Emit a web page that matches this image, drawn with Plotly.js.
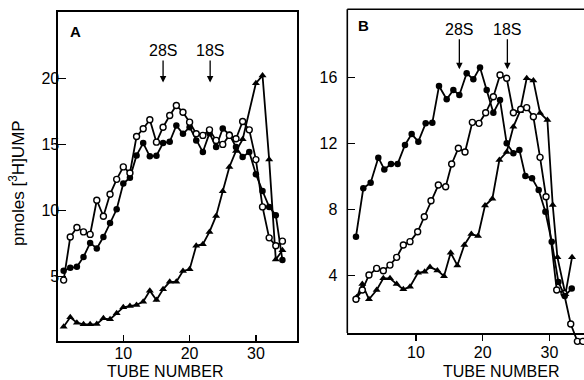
<!DOCTYPE html>
<html>
<head>
<meta charset="utf-8">
<script src="https://cdn.plot.ly/plotly-3.0.1.min.js"></script>
<style>html,body{margin:0;padding:0;background:#fff;}#chart{width:584px;height:380px;}</style>
</head>
<body>
<div id="chart"></div>
<script>
// ---- Panel A data (tube number vs pmoles [3H]UMP) ----
const tubesA = [1,2,3,4,5,6,7,8,9,10,11,12,13,14,15,16,17,18,19,20,21,22,23,24,25,26,27,28,29,30,31,32,33,34];
const openA = [4.75,8.0,8.72,8.39,8.2,10.78,9.57,11.23,12.36,13.3,12.84,15.6,16.18,16.86,15.17,16.3,17.18,17.94,17.43,16.68,15.8,15.68,16.1,15.3,15.0,15.68,15.43,16.73,16.1,13.85,10.28,7.94,7.34,7.69];
const filledA = [5.45,5.68,5.75,6.5,7.56,7.14,8.0,9.07,10.1,12.04,12.49,14.17,15.1,14.1,14.15,15.1,15.2,16.43,15.8,16.3,15.3,14.42,15.85,14.8,16.2,15.75,14.8,14.05,14.42,12.74,11.48,10.28,9.65,6.26];
const triTubesA = [1,2,3,4,5,6,7,8,9,10,11,12,13,14,15,16,17,18,19,20,21,22,23,24,25,26,27,28,30,31,32,33,34];
const triA = [1.23,1.94,1.53,1.41,1.41,1.43,1.86,1.79,2.24,2.69,2.79,2.87,3.12,3.95,3.24,4.05,4.62,4.62,5.43,5.56,7.34,7.46,8.39,9.6,11.46,13.29,14.5,15.38,19.62,20.2,13.85,6.3,7.0];

// ---- Panel B data ----
const filledTubesB = [1.0,2.1,3.2,4.35,5.25,6.25,7.25,8.35,9.35,10.35,11.45,12.45,13.45,14.6,15.6,16.5,17.6,18.6,19.6,20.6,21.6,22.6,23.6,24.6,25.5,26.4,27.4,28.4,29.4,30.35,31.35,32.3,33.35];
const filledB = [6.34,9.27,9.61,11.13,10.42,10.75,10.75,11.9,12.56,12.1,13.21,13.25,15.47,14.67,15.23,14.93,16.24,15.88,16.6,15.23,13.85,14.62,12.0,11.4,11.6,10.02,9.88,9.17,7.85,6.04,3.6,2.75,3.2];
const openTubesB = [1.0,1.95,2.95,4.1,5.1,6.1,7.1,8.1,9.1,10.25,11.25,12.25,13.35,14.45,15.35,16.35,17.35,18.45,19.45,20.45,21.6,22.6,23.6,24.6,25.7,26.6,27.6,28.6,29.5,31.1,32.2,33.2,34.2,35.0];
const openB = [2.55,3.11,4.02,4.42,4.28,4.62,5.09,5.84,6.04,6.64,7.55,8.52,9.47,9.37,10.75,11.7,11.47,13.27,13.21,13.85,14.82,16.14,15.94,13.85,14.06,14.16,13.61,11.15,8.76,3.11,2.9,1.05,0.0,0.0];
const triTubesB = [1.1,1.95,2.95,4.1,5.1,6.1,7.1,8.1,9.1,10.3,11.3,12.1,13.2,14.2,15.2,16.2,17.25,18.3,19.3,20.35,21.45,22.5,23.6,24.6,25.6,26.6,27.6,28.6,29.7,30.5,31.2,32.4,33.4];
const triB = [2.67,3.47,2.55,3.11,3.82,3.82,3.47,3.15,3.31,4.15,4.22,4.5,4.3,3.95,5.37,4.6,5.84,6.5,6.38,8.23,8.64,10.99,11.47,13.0,13.95,15.94,15.8,13.84,13.41,8.26,5.1,2.85,5.1];

const ticksA_y = [5,10,15,20];
const ticksB_y = [4,8,12,16];
const ticksX = [10,20,30];
const markers = [
  {name:'28S', xA:16.0, xB:16.5},
  {name:'18S', xA:23.1, xB:23.7}
];

const FONT = 'Liberation Sans, Arial, Helvetica, sans-serif';
const LW = 1.8;
function openTrace(x,y,xa,ya){return {x:x,y:y,xaxis:xa,yaxis:ya,mode:'lines+markers',type:'scatter',cliponaxis:false,
  line:{color:'#000',width:LW},marker:{symbol:'circle',size:6,color:'#fff',line:{color:'#000',width:1.4}},hoverinfo:'skip'};}
function filledTrace(x,y,xa,ya){return {x:x,y:y,xaxis:xa,yaxis:ya,mode:'lines+markers',type:'scatter',cliponaxis:false,
  line:{color:'#000',width:LW},marker:{symbol:'circle',size:6.5,color:'#000'},hoverinfo:'skip'};}
function triTrace(x,y,xa,ya){return {x:x,y:y,xaxis:xa,yaxis:ya,mode:'lines+markers',type:'scatter',cliponaxis:false,
  line:{color:'#000',width:LW},marker:{symbol:'triangle-up',size:7,color:'#000'},hoverinfo:'skip'};}

const data = [
  triTrace(triTubesA,triA,'x','y'),
  filledTrace(tubesA,filledA,'x','y'),
  openTrace(tubesA,openA,'x','y'),
  triTrace(triTubesB,triB,'x2','y2'),
  openTrace(openTubesB,openB,'x2','y2'),
  filledTrace(filledTubesB,filledB,'x2','y2')
];

const W=584,H=380;
const px = v=>v/W, py = v=>(H-v)/H;
const axFont = {family:FONT,size:16,color:'#000'};
const lblFont = {family:FONT,size:16,color:'#000'};

const annotations = [];
markers.forEach(m=>{
  annotations.push({x:m.xA,y:19.67,xref:'x',yref:'y',text:m.name,showarrow:true,ax:0,ay:-32,
    arrowhead:2,arrowsize:1,arrowwidth:1.3,arrowcolor:'#000',standoff:0,font:lblFont});
  annotations.push({x:m.xB,y:16.48,xref:'x2',yref:'y2',text:m.name,showarrow:true,ax:0,ay:-40,
    arrowhead:2,arrowsize:1,arrowwidth:1.3,arrowcolor:'#000',standoff:0,font:lblFont});
});
function paperText(x,y,text,size,extra){
  return Object.assign({x:px(x),y:py(y),xref:'paper',yref:'paper',xanchor:'center',yanchor:'middle',text:text,showarrow:false,
    font:{family:FONT,size:size,color:'#000'}},extra||{});
}
annotations.push(paperText(75,31,'<b>A</b>',15));
annotations.push(paperText(363,26,'<b>B</b>',15));
annotations.push(paperText(165,371,'TUBE NUMBER',16));
annotations.push(paperText(501,371,'TUBE NUMBER',16));
annotations.push(paperText(17,183,'pmoles [<sup>3</sup>H]UMP',17,{textangle:-90}));

const layout = {
  width:W,height:H,margin:{l:0,r:0,t:0,b:0},
  paper_bgcolor:'#fff',plot_bgcolor:'#fff',showlegend:false,
  font:{family:FONT,color:'#000'},
  xaxis:{domain:[px(58),px(297)],range:[0.15,36.2],anchor:'y',tickvals:ticksX,ticks:'inside',ticklen:6,tickwidth:1.4,tickcolor:'#000',
    showline:true,linecolor:'#000',linewidth:1.6,mirror:true,showgrid:false,zeroline:false,tickfont:axFont,ticklabelstandoff:-3},
  yaxis:{domain:[py(341),py(12)],range:[0.15,25.0],anchor:'x',tickvals:ticksA_y,ticks:'inside',ticklen:8,tickwidth:1.4,tickcolor:'#000',
    showline:true,linecolor:'#000',linewidth:1.6,mirror:true,showgrid:false,zeroline:false,tickfont:axFont,ticklabelstandoff:-6},
  xaxis2:{domain:[px(347.3),1],range:[-0.3,35.19],anchor:'free',position:py(333),tickvals:ticksX,ticks:'outside',ticklen:6,tickwidth:1.4,tickcolor:'#000',
    showline:true,linecolor:'#000',linewidth:1.6,showgrid:false,zeroline:false,tickfont:axFont,ticklabelstandoff:-2},
  yaxis2:{domain:[py(349.6),py(9.3)],range:[-0.5,20.12],anchor:'x2',tickvals:ticksB_y,ticks:'inside',ticklen:8,tickwidth:1.4,tickcolor:'#000',
    showline:false,showgrid:false,zeroline:false,tickfont:axFont,ticklabelstandoff:9},
  shapes:[
    {type:'line',xref:'paper',yref:'paper',x0:px(347.3),x1:px(347.3),y0:py(333),y1:py(9.3),line:{color:'#000',width:1.6}},
    {type:'line',xref:'paper',yref:'paper',x0:px(347.3),x1:1,y0:py(9.3),y1:py(9.3),line:{color:'#000',width:1.6}}
  ],
  annotations:annotations
};
Plotly.newPlot('chart',data,layout,{staticPlot:true,displayModeBar:false});
</script>
</body>
</html>
